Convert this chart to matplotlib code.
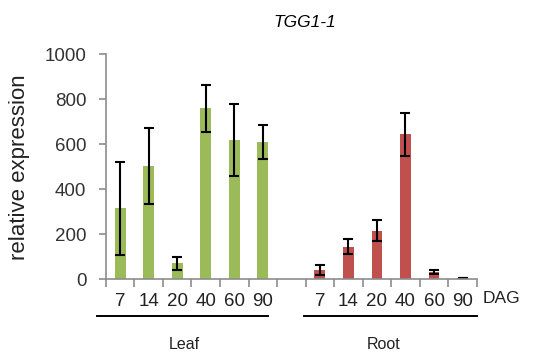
import matplotlib
matplotlib.use("Agg")
import matplotlib.pyplot as plt
import numpy as np

plt.rcParams['font.family'] = ['Liberation Sans', 'DejaVu Sans']

days = ['7', '14', '20', '40', '60', '90']
leaf_mean = [315, 503, 71, 760, 619, 609]
leaf_err = [208, 170, 28, 106, 159, 76]
root_mean = [41, 145, 216, 644, 34, 6]
root_err = [21, 33, 47, 96, 9, 2]

GREEN = '#9BBB59'
RED = '#C0504D'
AXIS = '#8C8C8C'

fig = plt.figure(figsize=(5.4, 3.6), dpi=100, facecolor='white')
ax = fig.add_axes([0.196, 0.224, 0.687, 0.625])

x_leaf = np.arange(len(days))
x_root = np.arange(len(days)) + len(days) + 1
err_kw = dict(ecolor='black', elinewidth=1.5, capsize=3.3, capthick=1.5)
ax.bar(x_leaf, leaf_mean, width=0.38, color=GREEN, yerr=leaf_err, error_kw=err_kw, zorder=2)
ax.bar(x_root, root_mean, width=0.38, color=RED, yerr=root_err, error_kw=err_kw, zorder=2)

ax.set_xlim(-0.5, x_root[-1] + 0.5)
ax.set_ylim(0, 1000)
ax.set_yticks(range(0, 1001, 200))
ax.set_xticks(np.arange(-0.5, x_root[-1] + 1, 1))
ax.set_xticklabels([])
ax.set_xticks(np.concatenate([x_leaf, x_root]), minor=True)
ax.set_xticklabels(days + days, minor=True, fontsize=13.5, color='#222222')
ax.tick_params(axis='x', which='major', length=6, color=AXIS, width=1.2)
ax.tick_params(axis='x', which='minor', length=0, pad=10)
ax.tick_params(axis='y', length=5, color=AXIS, width=1.2, labelsize=13.5,
               labelcolor='#333333', pad=9)

for side in ['top', 'right']:
    ax.spines[side].set_visible(False)
for side in ['left', 'bottom']:
    ax.spines[side].set_color(AXIS)
    ax.spines[side].set_linewidth(1.2)

ax.set_title('TGG1-1', fontsize=12.5, style='italic', pad=20, x=0.536)
fig.text(0.037, 0.535, 'relative expression', rotation=90, fontsize=16,
         ha='center', va='center', color='#222222')
fig.text(0.928, 0.172, 'DAG', fontsize=12.5, ha='center', va='center', color='#222222')

# group underlines and labels
trans = ax.get_xaxis_transform()
for xs, name, ext in [(x_leaf, 'Leaf', (-0.8, 0.17)), (x_root, 'Root', (-0.56, 0.5))]:
    ax.plot([xs[0] + ext[0], xs[-1] + ext[1]], [-0.165, -0.165], color='black',
            linewidth=1.4, transform=trans, clip_on=False)
    ax.text((xs[0] + xs[-1]) / 2 - 0.25, -0.29, name, fontsize=11.5, ha='center',
            va='center', transform=trans, color='#222222')

fig.savefig('out.png', dpi=100, facecolor='white')
